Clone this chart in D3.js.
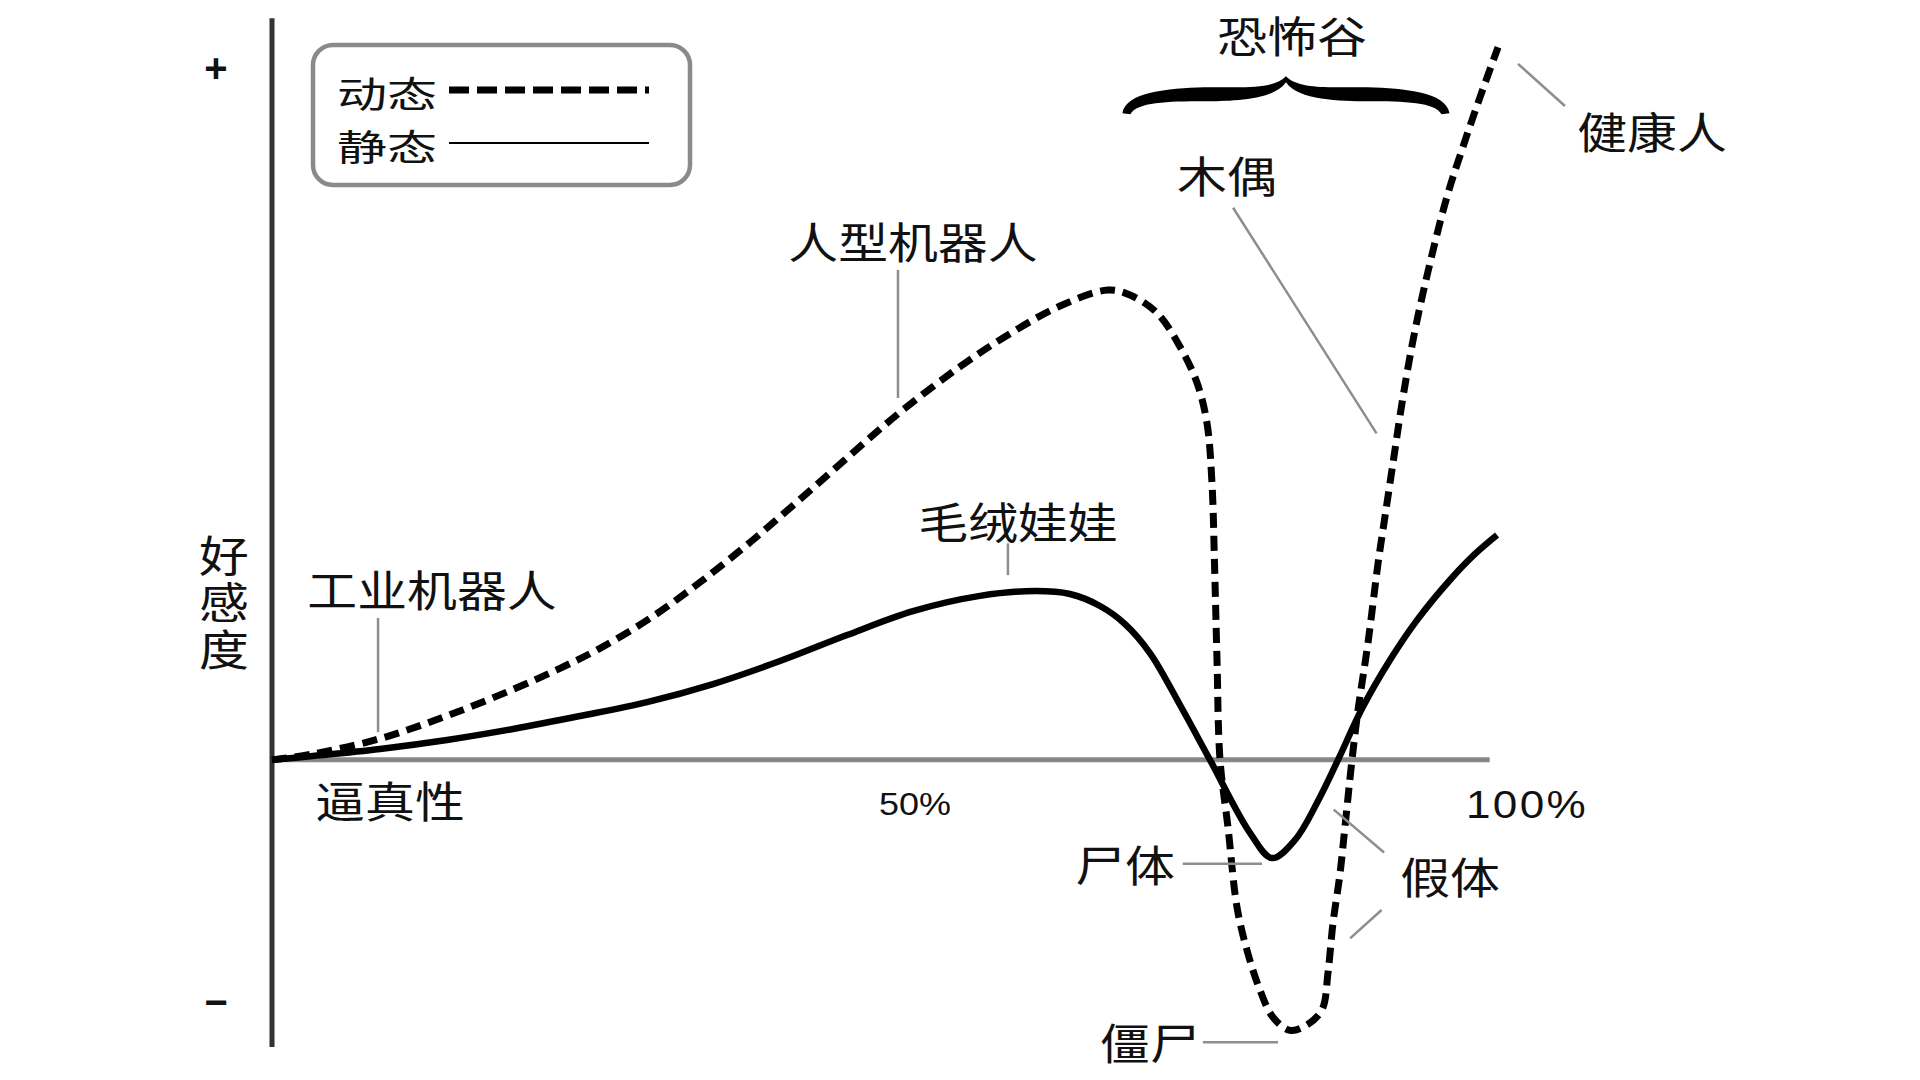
<!DOCTYPE html>
<html>
<head>
<meta charset="utf-8">
<title>恐怖谷</title>
<script src="https://d3js.org/d3.v7.min.js"></script>
<style>
body { margin: 0; background: #fff; }
svg text { font-family: "Noto Sans CJK SC", sans-serif; fill: #111; }
.leader { stroke: #8e8e8e; stroke-width: 2.5px; }
.num { font-family: "Liberation Sans", Arial, sans-serif; }
</style>
</head>
<body>
<script>

// realism (%) / affinity samples
var staticRealism = [0, 3.26, 8.59, 13.91, 19.16, 24.48, 29.81, 35.06, 40.38, 45.71, 50.95, 56.28,
    60.65, 63.43, 65.82, 67.81, 69.79, 72.18, 74.56, 77.74, 79.49, 81.32, 83.31, 84.74,
    86.72, 88.87, 91.02, 93.64, 95.63, 97.38];
var staticAffinity = [0, 0.56, 1.57, 2.87, 4.46, 6.33, 8.35, 10.96, 14.28, 18.04, 21.5, 23.7,
    24.4, 23.97, 22.24, 19.63, 15.44, 7.93, 0, -10.55, -14.2, -11.58, -5.36, 0,
    7.66, 14.43, 20.2, 26.0, 29.76, 32.5];

var movingRealism = [0, 3.26, 8.59, 13.91, 19.16, 22.89, 26.07, 30.05, 34.02, 38.0, 41.97, 45.95,
    49.92, 54.69, 58.66, 62.64, 66.45, 68.2, 70.35, 72.18, 73.53, 74.32, 74.72, 74.92, 75.12,
    75.36, 75.99, 76.71, 77.50, 78.54, 79.57, 80.92, 82.27, 83.47, 83.94, 84.34, 84.90, 85.29,
    85.85, 86.33, 87.12, 87.92, 88.31, 89.11, 89.90, 90.86, 92.05, 93.40, 94.67, 96.03, 97.46];
var movingAffinity = [0, 0.85, 3.07, 6.37, 10.18, 13.23, 16.12, 20.46, 25.66, 31.44, 37.66, 44.02,
    50.23, 56.83, 61.6, 65.6, 67.9, 67.2, 64.6, 59.7, 54.5, 48.7, 40.0, 28.45, 14.43,
    0, -9.7, -21.3, -27.5, -33.3, -37.2, -39.1, -38.3, -36.1, -30.8, -23.6, -16.4, -9.7,
    0, 7.2, 16.9, 28.4, 33.2, 42.9, 52.4, 62.1, 71.8, 81.4, 88.6, 95.8, 103.0];

var xTicks = [50, 100];
var xTickLabels = ["50%", "100%"];
var yTicks = [100, -35];
var yTickLabels = ["+", "−"];

var seriesNames = ["动态", "静态"];

// annotations, in (realism, affinity)
var labels = [
    {text: "工业机器人", x: 12.72, y: 24.84},
    {text: "人型机器人", x: 50.95, y: 75.14},
    {text: "毛绒娃娃", x: 59.30, y: 34.67},
    {text: "恐怖谷", x: 81.08, y: 104.9},
    {text: "健康人", x: 109.7, y: 91.04},
    {text: "木偶", x: 75.91, y: 84.68},
    {text: "尸体", x: 67.81, y: -14.9},
    {text: "假体", x: 93.64, y: -16.6},
    {text: "僵尸", x: 69.79, y: -40.6},
    {text: "逼真性", x: 9.38, y: -5.63}
];
var leaders = [
    [8.43, 20.5, 8.43, 4.0],
    [49.76, 70.8, 49.76, 52.3],
    [58.5, 31.3, 58.5, 26.7],
    [99.05, 100.6, 102.78, 94.5],
    [76.4, 79.8, 87.8, 47.2],
    [72.4, -15.0, 78.7, -15.0],
    [84.4, -7.2, 88.4, -13.4],
    [88.2, -21.7, 85.7, -25.8],
    [74.0, -40.8, 79.97, -40.8]
];
var valleyRange = [67.6, 93.6];
var valleyTop = 98.8;
var yTitle = "好感度";

var width = 1920, height = 1080;
var stretch = 1.16;   // picture is widened a little

var x = d3.scaleLinear().domain([0, 100]).range([272, 1530]);
var y = d3.scaleLinear().domain([-35, 100]).range([1002, 68]);

var svg = d3.select("body").append("svg")
    .attr("width", width)
    .attr("height", height);

function label(g, txt, px, py, size, anchor, sx) {
    return g.append("text")
        .attr("transform", "translate(" + px + "," + py + ") scale(" + (sx || stretch) + ",1)")
        .attr("text-anchor", anchor || "middle")
        .attr("dominant-baseline", "central")
        .style("font-size", size + "px")
        .text(txt);
}

// axes
svg.append("line")
    .attr("x1", x(0)).attr("x2", x(96.8))
    .attr("y1", y(0)).attr("y2", y(0))
    .attr("stroke", "#888").attr("stroke-width", 5);

svg.append("line")
    .attr("x1", x(0)).attr("x2", x(0))
    .attr("y1", y(107.2)).attr("y2", y(-41.5))
    .attr("stroke", "#333").attr("stroke-width", 5);

yTicks.forEach(function(t, i) {
    svg.append("text")
        .attr("x", 216).attr("y", y(t))
        .attr("text-anchor", "middle")
        .attr("dominant-baseline", "central")
        .attr("class", "num")
        .style("font-size", "40px")
        .style("font-weight", "bold")
        .text(yTickLabels[i]);
});

xTicks.forEach(function(t, i) {
    var t1 = label(svg, xTickLabels[i], x(t) + (i == 0 ? 14 : -3), y(0) + 45, i == 0 ? 31 : 38)
        .attr("class", "num");
    if (i == 1) t1.style("letter-spacing", "2px");
});

// vertical axis title
svg.append("text")
    .attr("transform", "translate(224,534) scale(" + stretch + ",1)")
    .style("writing-mode", "vertical-rl")
    .style("font-size", "43px")
    .style("letter-spacing", "4px")
    .text(yTitle);

// curves
var line = d3.line()
    .x(function(d) { return x(d[0]); })
    .y(function(d) { return y(d[1]); })
    .curve(d3.curveCatmullRom.alpha(0.5));

svg.append("path")
    .datum(staticRealism.map(function(r, i) { return [r, staticAffinity[i]]; }))
    .attr("d", line)
    .attr("fill", "none")
    .attr("stroke", "#000")
    .attr("stroke-width", 6.5);

svg.append("path")
    .datum(movingRealism.map(function(r, i) { return [r, movingAffinity[i]]; }))
    .attr("d", line)
    .attr("fill", "none")
    .attr("stroke", "#000")
    .attr("stroke-width", 7)
    .attr("stroke-dasharray", "15,8");

// leader lines + labels
svg.selectAll(".leader")
    .data(leaders)
    .enter().append("line")
    .attr("class", "leader")
    .attr("x1", function(d) { return x(d[0]); })
    .attr("y1", function(d) { return y(d[1]); })
    .attr("x2", function(d) { return x(d[2]); })
    .attr("y2", function(d) { return y(d[3]); });

labels.forEach(function(d) {
    label(svg, d.text, x(d.x), y(d.y), 43);
});

// the brace over the valley
function bracePath(x0, x1, top) {
    var c = (x0 + x1) / 2, p = "";
    [-1, 1].forEach(function(s) {
        var e = s < 0 ? x0 : x1;
        var m = (c + e) / 2;
        p += "M" + c + "," + top;
        p += "C" + (c + s * 14) + "," + (top + 15) + " " + (c + s * 55) + "," + (top + 10) + " " + m + "," + (top + 11);
        p += "C" + (e - s * 45) + "," + (top + 12) + " " + (e - s * 3) + "," + (top + 16) + " " + e + "," + (top + 37);
        p += "L" + (e - s * 8) + "," + (top + 38);
        p += "C" + (e - s * 14) + "," + (top + 26) + " " + (e - s * 45) + "," + (top + 25) + " " + m + "," + (top + 25);
        p += "C" + (c + s * 55) + "," + (top + 25) + " " + (c + s * 12) + "," + (top + 24) + " " + c + "," + (top + 6);
        p += "Z";
    });
    return p;
}

svg.append("path")
    .attr("d", bracePath(x(valleyRange[0]), x(valleyRange[1]), y(valleyTop)))
    .attr("fill", "#000");

// legend
var lg = svg.append("g");
lg.append("rect")
    .attr("x", 313).attr("y", 45)
    .attr("width", 377).attr("height", 140)
    .attr("rx", 20)
    .attr("fill", "none")
    .attr("stroke", "#8a8a8a")
    .attr("stroke-width", 4.5);

seriesNames.forEach(function(n, i) {
    var ly = 90 + i * 53;
    label(lg, n, 337, ly + 2, 36.5, "start", 1.37);
    lg.append("line")
        .attr("x1", 449).attr("x2", 649)
        .attr("y1", ly).attr("y2", ly)
        .attr("stroke", "#000")
        .attr("stroke-width", i == 0 ? 7 : 2.2)
        .attr("stroke-dasharray", i == 0 ? "20,8" : null);
});

</script>
</body>
</html>
